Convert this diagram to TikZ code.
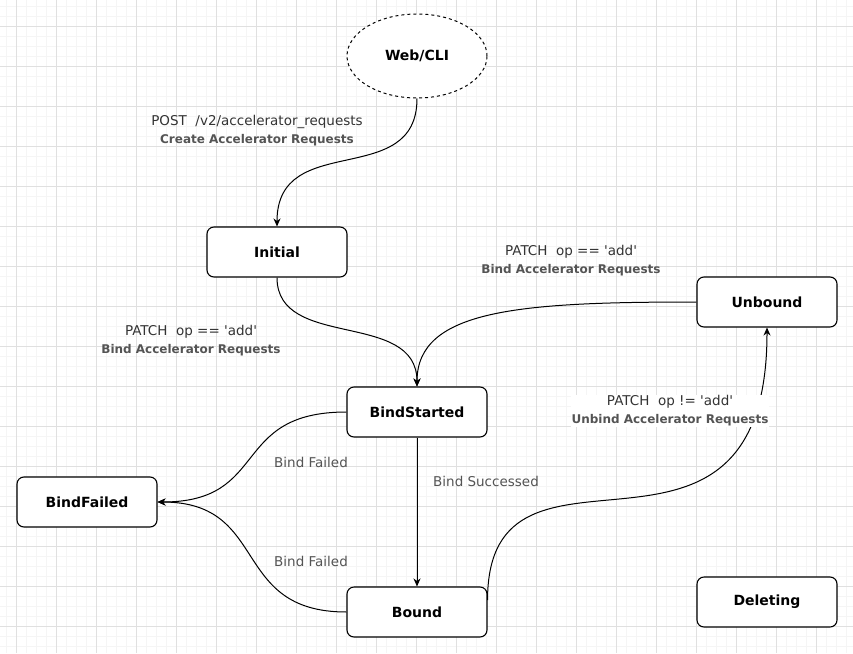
\documentclass[tikz,border=0pt]{standalone}
\usepackage{fontspec}
\setmainfont{DejaVu Sans}
\usepackage{tikz}
\usetikzlibrary{arrows.meta, positioning, shapes.geometric}
\definecolor{gridmajor}{gray}{0.88}
\definecolor{gridminor}{gray}{0.96}
\definecolor{labelgray}{gray}{0.33}
\definecolor{labeldark}{gray}{0.20}

\newcommand{\q}{\textquotesingle}
\newcommand{\sub}[1]{\textcolor{labelgray}{\fontsize{12}{18}\selectfont\bfseries #1}}

\begin{document}
\begin{tikzpicture}[x=1pt, y=-1pt,
	state/.style={draw, line width=1.1pt, rounded corners=7pt, fill=white, minimum width=140pt, minimum height=50pt, font=\fontsize{14}{16}\selectfont\bfseries},
	client/.style={draw, line width=1pt, dash pattern=on 3pt off 3pt, ellipse, fill=white, minimum width=140pt, minimum height=84pt, font=\fontsize{14}{16}\selectfont\bfseries},
	trans/.style={line width=1pt, -{Stealth[length=8pt, width=7pt, inset=2.5pt]}},
	lbl/.style={align=center, inner sep=1pt, text=labeldark, font=\fontsize{13.5}{18}\selectfont}
]

\def \gw{853}
\def \gh{653}

\useasboundingbox (0,0) rectangle (\gw,\gh);
\fill[white] (0,0) rectangle (\gw,\gh);

\foreach \x in {6.7, 16.7, ..., \gw} {
	\draw[gridminor, line width=0.8pt] (\x,0) -- (\x,\gh); % minor x line
}
\foreach \y in {6.7, 16.7, ..., \gh} {
	\draw[gridminor, line width=0.8pt] (0,\y) -- (\gw,\y); % minor y line
}
\foreach \x in {16.7, 56.7, ..., \gw} {
	\draw[gridmajor, line width=0.8pt] (\x,0) -- (\x,\gh); % major x line
}
\foreach \y in {26.7, 66.7, ..., \gh} {
	\draw[gridmajor, line width=0.8pt] (0,\y) -- (\gw,\y); % major y line
}

% states
\node[client] (web)     at (417, 56)  {Web/CLI};
\node[state]  (init)    at (277, 252) {Initial};
\node[state]  (unbound) at (767, 302) {Unbound};
\node[state]  (bstart)  at (417, 412) {BindStarted};
\node[state]  (bfailed) at (87, 502)  {BindFailed};
\node[state]  (bound)   at (417, 612) {Bound};
\node[state]  (deleting) at (767, 602) {Deleting};

% transitions
\draw[trans] (web.south) .. controls +(0,92) and +(0,-97) .. (init.north);
\draw[trans] (init.south) .. controls +(0,73) and +(0,-77) .. (bstart.north);
\draw[trans] (unbound.west) .. controls +(-177,0) and +(0,-77) .. (bstart.north);
\draw[trans] (bstart.west) .. controls +(-117,0) and +(113,0) .. (bfailed.east);
\draw[trans] (bound.west) .. controls +(-117,0) and +(113,0) .. (bfailed.east);
\draw[trans] (bstart.south) -- (bound.north);
\draw[trans] ([yshift=12pt]bound.east) .. controls +(0,-195) and +(0,285) .. (unbound.south);

% labels
\node[lbl] (post)   at (257, 131) {POST\ \ /v2/accelerator\_requests\\\sub{Create Accelerator Requests}};
\node[lbl] (bindA)  at (191, 341) {PATCH\ \ op == \q add\q\\\sub{Bind Accelerator Requests}};
\node[lbl] (bindB)  at (571, 261) {PATCH\ \ op == \q add\q\\\sub{Bind Accelerator Requests}};
\node[lbl, text=labelgray] (failA) at (311, 462) {Bind Failed};
\node[lbl, text=labelgray] (failB) at (311, 561) {Bind Failed};
\node[lbl, text=labelgray] (succ)  at (486, 481) {Bind Successed};
\node[lbl, fill=white] (unbind) at (670, 411) {PATCH\ \ op != \q add\q\\\sub{Unbind Accelerator Requests}};

\end{tikzpicture}
\end{document}
